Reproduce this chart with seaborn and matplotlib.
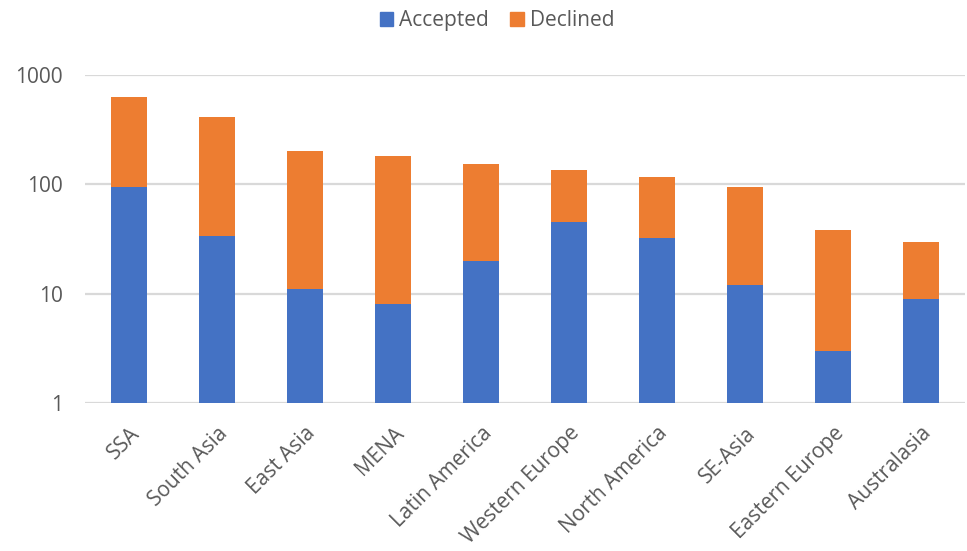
import matplotlib
matplotlib.use("Agg")
import matplotlib.pyplot as plt
import matplotlib.patches as mpatches
import seaborn as sns
import pandas as pd

regions = ["SSA", "South Asia", "East Asia", "MENA", "Latin America",
           "Western Europe", "North America", "SE-Asia", "Eastern Europe", "Australasia"]
accepted = [94, 34, 11, 8, 20, 45, 32, 12, 3, 9]
declined = [529, 375, 189, 174, 134, 90, 85, 82, 35, 21]
y_ticks = [1, 10, 100, 1000]

BLUE = "#4472C4"
ORANGE = "#ED7D31"
GREY_TEXT = "#595959"
GRID = "#D9D9D9"

sns.set_theme(style="white")
plt.rcParams["font.family"] = ["Open Sans", "DejaVu Sans"]

df = pd.DataFrame({"region": regions, "Accepted": accepted, "Declined": declined})
df["total"] = df["Accepted"] + df["Declined"]

fig = plt.figure(figsize=(9.67, 5.51), dpi=100)
ax = fig.add_axes([0.088, 0.268, 0.91, 0.5964])

# stacked: full height (orange) then accepted portion (blue) over it
sns.barplot(data=df, x="region", y="total", color=ORANGE, width=0.4,
            saturation=1, linewidth=0, ax=ax, zorder=3)
sns.barplot(data=df, x="region", y="Accepted", color=BLUE, width=0.4,
            saturation=1, linewidth=0, ax=ax, zorder=4)

ax.set_yscale("log")
ax.set_ylim(1, 1000)
ax.set_xlim(-0.5, len(regions) - 0.5)
ax.set_yticks(y_ticks)
ax.set_yticklabels([str(t) for t in y_ticks])
ax.yaxis.set_minor_locator(matplotlib.ticker.NullLocator())
ax.grid(axis="y", color=GRID, linewidth=1.6, zorder=0)
ax.set_axisbelow(True)
for s in ax.spines.values():
    s.set_visible(False)

ax.set_xlabel("")
ax.set_ylabel("")
ax.tick_params(axis="both", length=0, colors=GREY_TEXT, labelsize=15)
ax.tick_params(axis="y", pad=16)
ax.tick_params(axis="x", pad=14)
plt.setp(ax.get_xticklabels(), rotation=45, ha="right", rotation_mode="anchor")

handles = [mpatches.Patch(color=BLUE, label="Accepted"),
           mpatches.Patch(color=ORANGE, label="Declined")]
leg = fig.legend(handles=handles, loc="center", bbox_to_anchor=(0.514, 0.963),
                 ncol=2, frameon=False, fontsize=15, handlelength=0.65,
                 handleheight=0.65, handletextpad=0.3, columnspacing=1.0)
for t in leg.get_texts():
    t.set_color(GREY_TEXT)

fig.savefig("out.png", dpi=100, facecolor="white")
